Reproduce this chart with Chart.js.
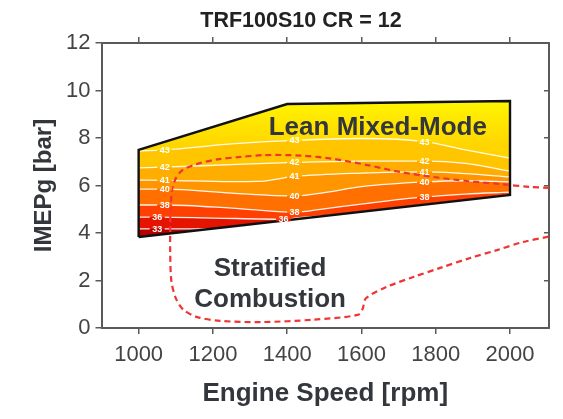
<!DOCTYPE html>
<html>
<head>
<meta charset="utf-8">
<script src="https://cdn.jsdelivr.net/npm/chart.js@4.4.1/dist/chart.umd.min.js"></script>
<style>
  html, body { margin: 0; padding: 0; background: #fff; }
  #wrap { width: 563px; height: 419px; }
</style>
</head>
<body>
<div id="wrap"><canvas id="chart" width="563" height="419"></canvas></div>
<script>
// axis ticks
const speedTicks = [1000, 1200, 1400, 1600, 1800, 2000];
const loadTicks = [0, 2, 4, 6, 8, 10, 12];

// operating envelope, [rpm, IMEPg bar]
const envelopeLower = [[1000, 3.83], [2000, 5.6]];
const envelopeUpper = [[1000, 7.5], [1400, 9.43], [2000, 9.56]];
const envelopeOutline = [[1000, 3.83], [1000, 7.5], [1400, 9.43], [2000, 9.56], [2000, 5.6], [1000, 3.83]];

// efficiency contour levels and their lines
const levels = [33, 36, 38, 40, 41, 42, 43];
const contour33 = [[1000, 4.17], [1050, 4.17], [1190, 4.17], [1400, 4.54], [1700, 5.07], [2000, 5.6]];
const contour36 = [[1000, 4.67], [1050, 4.67], [1200, 4.63], [1390, 4.58], [1440, 4.66], [1520, 4.75], [1760, 5.17], [2000, 5.6]];
const contour38 = [[1000, 5.18], [1070, 5.18], [1250, 5.05], [1420, 4.87], [1500, 5.02], [1600, 5.22], [1770, 5.52], [1880, 5.64], [2000, 5.72]];
const contour40 = [[1000, 5.85], [1070, 5.85], [1250, 5.68], [1420, 5.56], [1500, 5.7], [1600, 5.95], [1770, 6.15], [1880, 6.2], [2000, 6.15]];
const contour41 = [[1000, 6.23], [1070, 6.22], [1250, 6.16], [1320, 6.17], [1420, 6.38], [1600, 6.52], [1770, 6.57], [1880, 6.5], [2000, 6.36]];
const contour42 = [[1000, 6.74], [1070, 6.77], [1250, 6.88], [1420, 6.97], [1600, 7.03], [1770, 7.03], [1880, 6.93], [2000, 6.6]];
const contour43 = [[1000, 7.45], [1070, 7.5], [1250, 7.75], [1420, 7.9], [1600, 7.98], [1770, 7.85], [1880, 7.5], [2000, 7.15]];
const contours = [contour33, contour36, contour38, contour40, contour41, contour42, contour43];

// band colours from the bottom of the envelope upward
const bandColors = ['#b80000', '#e41400', '#ff4000', '#ff7000', '#ff9600', '#ffae00', '#ffc600', '#ffe400'];

// where each contour carries its level label, rpm
const labelSpeeds = {33: [1050], 36: [1050, 1390], 38: [1070, 1420, 1770], 40: [1070, 1420, 1770], 41: [1070, 1420, 1770], 42: [1070, 1420, 1770], 43: [1070, 1420, 1770]};

// mixed-mode / stratified combustion boundary
const modeBoundary = [
  [2105, 5.9], [2054, 5.94], [1973, 6.06], [1884, 6.19], [1793, 6.36], [1704, 6.57], [1616, 6.86],
  [1525, 7.12], [1436, 7.26], [1336, 7.28], [1274, 7.2], [1212, 7.1], [1156, 6.9], [1118, 6.65],
  [1100, 6.3], [1090, 5.8], [1086, 5.0], [1085, 4.1], [1085, 3.2], [1088, 2.0], [1100, 1.26],
  [1121, 0.76], [1158, 0.46], [1220, 0.3], [1330, 0.25], [1470, 0.35], [1590, 0.55], [1603, 0.8],
  [1612, 1.25], [1668, 1.73], [1740, 2.15], [1812, 2.53], [1893, 2.95], [1965, 3.28], [2035, 3.62],
  [2105, 3.85]
];

// region names, placed in data coordinates
const regionNames = [
  {text: 'Lean Mixed-Mode', x: 1644, y: 8.42},
  {text: 'Stratified', x: 1354, y: 2.48},
  {text: 'Combustion', x: 1354, y: 1.18}
];

const FONT = '"Liberation Sans", Arial, sans-serif';
const AXIS = '#5a5a5a';
const INK = '#33363b';

const toPoints = arr => arr.map(([x, y]) => ({x, y}));

// top band fades from bright yellow to gold
function topBand(ctx) {
  const chart = ctx.chart;
  const area = chart.chartArea;
  if (!area) return bandColors[7];
  const y = chart.scales.y;
  const g = chart.ctx.createLinearGradient(0, y.getPixelForValue(9.5), 0, y.getPixelForValue(7.6));
  g.addColorStop(0, '#fff400');
  g.addColorStop(1, '#ffd400');
  return g;
}

const datasets = [
  {
    data: toPoints(modeBoundary), borderColor: '#f03434', borderWidth: 2.2, borderDash: [6, 4],
    pointRadius: 0, fill: false, tension: 0.3
  },
  {
    data: toPoints(envelopeOutline), borderColor: '#111', borderWidth: 2.4,
    pointRadius: 0, fill: false, tension: 0
  },
  {
    data: toPoints(envelopeLower), borderWidth: 0, pointRadius: 0, fill: false
  },
  ...contours.map((c, i) => ({
    data: toPoints(c), level: levels[i], fill: '-1', backgroundColor: bandColors[i],
    borderColor: 'rgba(255,255,255,0.9)', borderWidth: 1.3, pointRadius: 0,
    cubicInterpolationMode: 'monotone'
  })),
  {
    data: toPoints(envelopeUpper), borderWidth: 0, pointRadius: 0, fill: '-1',
    backgroundColor: topBand, tension: 0
  }
];

const contourText = {
  id: 'contourText',
  afterDatasetsDraw(chart) {
    const c = chart.ctx;
    c.save();
    c.font = 'bold 9px ' + FONT;
    c.textAlign = 'center';
    c.textBaseline = 'middle';
    chart.data.datasets.forEach((ds, di) => {
      if (ds.level === undefined) return;
      const meta = chart.getDatasetMeta(di);
      const k = levels.indexOf(ds.level);
      (labelSpeeds[ds.level] || []).forEach(sx => {
        const j = ds.data.findIndex(p => p.x === sx);
        if (j < 0) return;
        const pt = meta.data[j];
        const txt = String(ds.level);
        const w = c.measureText(txt).width + 5;
        // break the line under the label
        c.fillStyle = bandColors[k + 1];
        c.fillRect(pt.x - w / 2, pt.y - 2, w, 2);
        c.fillStyle = bandColors[k];
        c.fillRect(pt.x - w / 2, pt.y, w, 2);
        c.fillStyle = '#fff';
        c.fillText(txt, pt.x, pt.y + 0.5);
      });
    });

    const xs = chart.scales.x, ys = chart.scales.y;
    c.font = 'bold 26px ' + FONT;
    c.fillStyle = INK;
    regionNames.forEach(r => c.fillText(r.text, xs.getPixelForValue(r.x), ys.getPixelForValue(r.y)));

    c.font = 'bold 21.5px ' + FONT;
    c.fillStyle = '#222';
    c.fillText('TRF100S10 CR = 12', 301, 21);
    c.restore();
  }
};

const tickGrid = len => ({drawOnChartArea: false, drawTicks: true, tickLength: len, color: AXIS, lineWidth: 1.5});
const axisBorder = {display: true, color: AXIS, width: 2};
const plain = v => String(v);

new Chart(document.getElementById('chart'), {
  type: 'line',
  data: {datasets},
  options: {
    responsive: false,
    animation: false,
    layout: {padding: 0},
    plugins: {legend: {display: false}, tooltip: {enabled: false}, title: {display: false}},
    scales: {
      x: {
        type: 'linear', position: 'bottom', min: 900, max: 2105,
        afterBuildTicks: s => { s.ticks = speedTicks.map(v => ({value: v})); },
        afterFit: s => { s.height = 91; },
        grid: tickGrid(6),
        border: axisBorder,
        ticks: {color: '#444', font: {size: 22, family: FONT}, padding: 8, maxRotation: 0, autoSkip: false, callback: plain},
        title: {display: true, text: 'Engine Speed [rpm]', color: INK, font: {size: 26, weight: 'bold', family: FONT}, padding: {top: 0, bottom: 10}}
      },
      x2: {
        type: 'linear', position: 'top', min: 900, max: 2105,
        afterBuildTicks: s => { s.ticks = speedTicks.map(v => ({value: v})); },
        afterFit: s => { s.height = 43; },
        grid: tickGrid(6),
        border: axisBorder,
        ticks: {display: false}
      },
      y: {
        type: 'linear', position: 'left', min: 0, max: 12,
        afterBuildTicks: s => { s.ticks = loadTicks.map(v => ({value: v})); },
        afterFit: s => { s.width = 101.5; },
        grid: tickGrid(6),
        border: axisBorder,
        ticks: {color: '#444', font: {size: 22, family: FONT}, padding: 5, callback: plain},
        title: {display: true, text: 'IMEPg [bar]', color: INK, font: {size: 24, weight: 'bold', family: FONT}, padding: {top: 30, bottom: 0}}
      },
      y2: {
        type: 'linear', position: 'right', min: 0, max: 12,
        afterBuildTicks: s => { s.ticks = loadTicks.map(v => ({value: v})); },
        afterFit: s => { s.width = 14; },
        grid: tickGrid(-5),
        border: axisBorder,
        ticks: {display: false}
      }
    }
  },
  plugins: [contourText]
});
</script>
</body>
</html>
